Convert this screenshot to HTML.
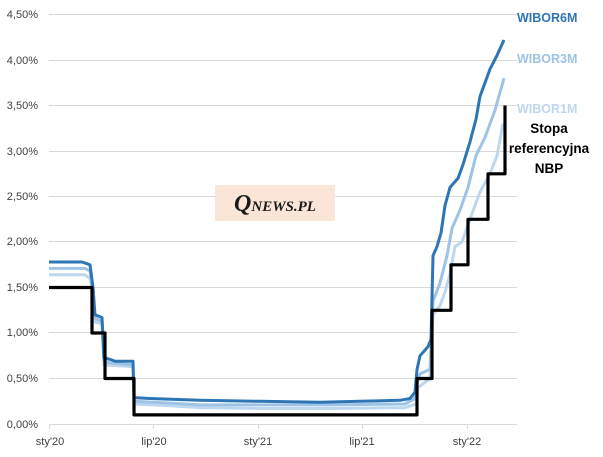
<!DOCTYPE html>
<html><head><meta charset="utf-8"><style>
body{margin:0;background:#fff;}
svg{display:block;font-family:"Liberation Sans",sans-serif;}
</style></head><body>
<svg width="603" height="457" viewBox="0 0 603 457" id="c">
<g stroke="#d9d9d9" stroke-width="1">
<line x1="49" x2="517" y1="14.5" y2="14.5"/><line x1="49" x2="517" y1="60.5" y2="60.5"/>
<line x1="49" x2="517" y1="105.5" y2="105.5"/><line x1="49" x2="517" y1="151.5" y2="151.5"/>
<line x1="49" x2="517" y1="196.5" y2="196.5"/><line x1="49" x2="517" y1="241.5" y2="241.5"/>
<line x1="49" x2="517" y1="287.5" y2="287.5"/><line x1="49" x2="517" y1="332.5" y2="332.5"/>
<line x1="49" x2="517" y1="378.5" y2="378.5"/><line x1="49" x2="517" y1="424.5" y2="424.5"/>
<line x1="49.5" x2="49.5" y1="424" y2="429"/><line x1="153.5" x2="153.5" y1="424" y2="429"/>
<line x1="258.5" x2="258.5" y1="424" y2="429"/><line x1="362.5" x2="362.5" y1="424" y2="429"/>
<line x1="467.5" x2="467.5" y1="424" y2="429"/>
</g>
<g font-size="11" fill="#404040" text-anchor="end">
<text x="38" y="18">4,50%</text><text x="38" y="64">4,00%</text><text x="38" y="109">3,50%</text>
<text x="38" y="155">3,00%</text><text x="38" y="200">2,50%</text><text x="38" y="245">2,00%</text>
<text x="38" y="291">1,50%</text><text x="38" y="336">1,00%</text><text x="38" y="382">0,50%</text>
<text x="38" y="428">0,00%</text>
</g>
<g font-size="11" fill="#404040" text-anchor="middle">
<text x="50" y="445">sty'20</text><text x="154" y="445">lip'20</text><text x="258" y="445">sty'21</text>
<text x="362" y="445">lip'21</text><text x="467" y="445">sty'22</text>
</g>
<rect x="215" y="185" width="120" height="36" fill="#fbe5d6"/>
<text x="275" y="211" text-anchor="middle" font-family="Liberation Serif,serif" font-weight="bold" font-style="italic" fill="#1a1a1a"><tspan font-size="24">Q</tspan><tspan font-size="15">NEWS.PL</tspan></text>
<g id="lines" fill="none" stroke-width="3" stroke-linejoin="round"></g>
<g font-weight="bold" font-size="12.5">
<text x="517" y="22" fill="#2e75b6">WIBOR6M</text>
<text x="517" y="63" fill="#9dc3e6">WIBOR3M</text>
<text x="517" y="113" fill="#bdd7ee">WIBOR1M</text>
<g fill="#000" text-anchor="middle" font-size="13.5"><text x="549" y="133">Stopa</text><text x="549" y="153">referencyjna</text><text x="549" y="173">NBP</text></g>
</g>
</svg>
<script>
function Y(v){return 424-91*v;}
function path(pts,col,w){var d=pts.map(function(p,i){return (i?'L':'M')+p[0]+' '+Y(p[1]).toFixed(1);}).join(' ');
var e=document.createElementNS('http://www.w3.org/2000/svg','path');e.setAttribute('d',d);e.setAttribute('stroke',col);if(w)e.setAttribute('stroke-width',w);document.getElementById('lines').appendChild(e);}
path([[49,1.64],[85,1.64],[90,1.6],[92,1.5],[95,1.12],[102,1.1],[104,0.65],[133,0.63],[134,0.22],[170,0.2],[200,0.18],[260,0.17],[330,0.17],[405,0.18],[416,0.22],[418,0.4],[430,0.5],[433,1.2],[440,1.3],[445,1.45],[450,1.65],[455,1.95],[462,2.0],[470,2.25],[480,2.55],[490,2.75],[497,2.95],[503,3.3]],'#bdd7ee');
path([[49,1.71],[85,1.71],[90,1.68],[92,1.5],[95,1.16],[102,1.13],[104,0.69],[110,0.67],[133,0.65],[134,0.25],[170,0.23],[200,0.21],[260,0.21],[330,0.21],[405,0.22],[415,0.28],[417,0.45],[420,0.55],[430,0.6],[433,1.35],[440,1.55],[447,1.85],[452,2.15],[460,2.35],[468,2.6],[476,2.95],[485,3.15],[495,3.45],[504,3.8]],'#9dc3e6');
path([[49,1.78],[82,1.78],[90,1.75],[93,1.5],[95,1.2],[102,1.17],[104,0.73],[110,0.71],[115,0.69],[133,0.69],[134,0.29],[150,0.28],[200,0.26],[260,0.25],[320,0.24],[360,0.25],[400,0.26],[410,0.28],[415,0.35],[417,0.6],[420,0.75],[428,0.85],[431,0.93],[433,1.85],[437,1.95],[441,2.1],[445,2.4],[450,2.6],[458,2.7],[463,2.85],[470,3.1],[476,3.35],[480,3.6],[485,3.75],[490,3.9],[497,4.05],[504,4.22]],'#2e75b6');
var n=[[49,1.5],[92,1.5],[92,1.0],[105,1.0],[105,0.5],[134,0.5],[134,0.1],[417,0.1],[417,0.5],[432,0.5],[432,1.25],[451,1.25],[451,1.75],[468,1.75],[468,2.25],[488,2.25],[488,2.75],[505,2.75],[505,3.5]];
path(n,'#000',3.2);
</script>
</body></html>
